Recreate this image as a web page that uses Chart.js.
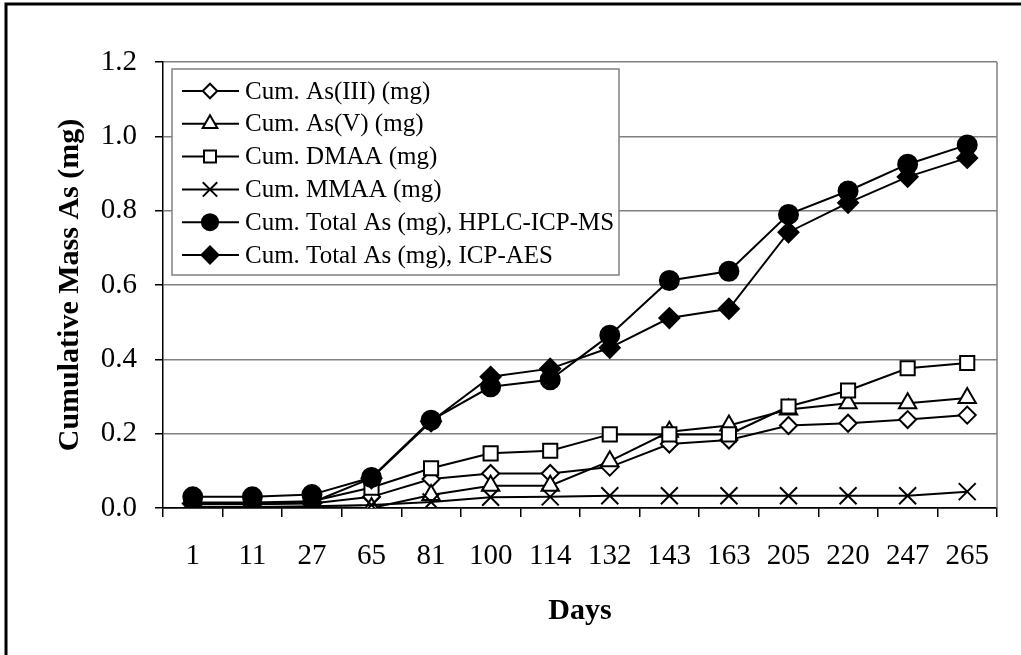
<!DOCTYPE html>
<html>
<head>
<meta charset="utf-8">
<script src="https://cdn.jsdelivr.net/npm/chart.js@4/dist/chart.umd.min.js"></script>
<style>
  html, body { margin: 0; padding: 0; background: #fff; }
  #wrap { width: 1021px; height: 655px; }
</style>
</head>
<body>
<div id="wrap"><canvas id="c" width="1021" height="655"></canvas></div>
<script>
// sampling days (category axis)
const days = ['1', '11', '27', '65', '81', '100', '114', '132', '143', '163', '205', '220', '247', '265'];

// cumulative arsenic mass per species, mg
const as3  = [0.010, 0.010, 0.012, 0.030, 0.078, 0.093, 0.093, 0.110, 0.172, 0.183, 0.222, 0.228, 0.238, 0.250];
const as5  = [0.000, 0.000, 0.003, 0.000, 0.035, 0.060, 0.060, 0.126, 0.205, 0.222, 0.265, 0.282, 0.282, 0.296];
const dmaa = [0.015, 0.015, 0.018, 0.055, 0.107, 0.147, 0.154, 0.198, 0.198, 0.198, 0.273, 0.316, 0.376, 0.390];
const mmaa = [0.003, 0.003, 0.005, 0.008, 0.016, 0.029, 0.030, 0.033, 0.033, 0.033, 0.033, 0.033, 0.033, 0.044];
const totalMs  = [0.030, 0.030, 0.036, 0.082, 0.236, 0.326, 0.345, 0.465, 0.612, 0.637, 0.790, 0.853, 0.925, 0.977];
const totalAes = [0.012, 0.012, 0.015, 0.080, 0.233, 0.353, 0.375, 0.431, 0.511, 0.536, 0.742, 0.821, 0.891, 0.942];

const yTicks = [0, 0.2, 0.4, 0.6, 0.8, 1.0, 1.2];

const serif = '"Liberation Serif", "Times New Roman", serif';

function series(label, data, style, radius, fill, i) {
  return {
    label, data,
    borderColor: '#000', borderWidth: 2,
    pointStyle: style, pointRadius: radius, pointHoverRadius: radius,
    pointBackgroundColor: fill, pointBorderColor: '#000', pointBorderWidth: 2,
    tension: 0, fill: false,
    order: 5 - i   // later series sit on top
  };
}

// white page + outer frame
const frame = {
  id: 'frame',
  beforeDraw(chart) {
    const { ctx, width, height } = chart;
    ctx.save();
    ctx.fillStyle = '#fff';
    ctx.fillRect(0, 0, width, height);
    ctx.strokeStyle = '#000';
    ctx.lineWidth = 3;
    ctx.strokeRect(6, 4, width + 20, height + 20);
    ctx.restore();
  },
  beforeDatasetsDraw(chart) {
    const { ctx, chartArea } = chart;
    ctx.save();
    ctx.strokeStyle = '#808080';
    ctx.lineWidth = 1.5;
    ctx.beginPath();
    ctx.moveTo(chartArea.right, chartArea.top);
    ctx.lineTo(chartArea.right, chartArea.bottom);
    ctx.stroke();
    ctx.restore();
  }
};

// boxed legend in the upper left of the plot
const boxLegend = {
  id: 'boxLegend',
  afterDraw(chart) {
    const { ctx, chartArea } = chart;
    const x = chartArea.left + 9, y = chartArea.top + 7, w = 447, h = 206;
    ctx.save();
    ctx.fillStyle = '#fff';
    ctx.fillRect(x, y, w, h);
    ctx.strokeStyle = '#808080';
    ctx.lineWidth = 1.5;
    ctx.strokeRect(x, y, w, h);
    ctx.font = '25px ' + serif;
    ctx.textBaseline = 'middle';
    chart.data.datasets.forEach((ds, i) => {
      const cy = y + 22 + i * 32.8;
      ctx.strokeStyle = '#000';
      ctx.lineWidth = 2;
      ctx.beginPath();
      ctx.moveTo(x + 10, cy);
      ctx.lineTo(x + 67, cy);
      ctx.stroke();
      ctx.fillStyle = ds.pointBackgroundColor;
      Chart.helpers.drawPoint(ctx, {
        pointStyle: ds.pointStyle, radius: ds.pointRadius * 0.85,
        rotation: 0, borderWidth: ds.pointBorderWidth
      }, x + 38, cy);
      ctx.fillStyle = '#000';
      ctx.fillText(ds.label, x + 73, cy + 1);
    });
    ctx.restore();
  }
};

new Chart(document.getElementById('c'), {
  type: 'line',
  data: {
    labels: days,
    datasets: [
      series('Cum. As(III) (mg)', as3, 'rectRot', 8.5, '#fff', 0),
      series('Cum. As(V) (mg)', as5, 'triangle', 10, '#fff', 1),
      series('Cum. DMAA (mg)', dmaa, 'rect', 10, '#fff', 2),
      series('Cum. MMAA (mg)', mmaa, 'crossRot', 12, '#fff', 3),
      series('Cum. Total As (mg), HPLC-ICP-MS', totalMs, 'circle', 9.5, '#000', 4),
      series('Cum. Total As (mg), ICP-AES', totalAes, 'rectRot', 10, '#000', 5)
    ]
  },
  options: {
    responsive: false,
    animation: false,
    devicePixelRatio: 1,
    layout: { padding: { top: 62, right: 24, left: 0, bottom: 0 } },
    plugins: { legend: { display: false }, tooltip: { enabled: false } },
    scales: {
      x: {
        offset: true,
        afterFit: s => { s.height = 147; },
        grid: { offset: true, drawOnChartArea: false, tickLength: 9, color: '#000', lineWidth: 1.5 },
        border: { color: '#000', width: 1.5 },
        ticks: { color: '#000', padding: 22, maxRotation: 0, autoSkip: false, font: { family: serif, size: 29 } },
        title: {
          display: true, text: 'Days', color: '#000',
          font: { family: serif, size: 30, weight: 'bold' },
          padding: { top: 0, bottom: 26 }
        }
      },
      y: {
        min: 0, max: 1.2,
        afterFit: s => { s.width = 163; },
        afterBuildTicks: s => { s.ticks = yTicks.map(v => ({ value: v })); },
        grid: {
          color: c => c.tick && c.tick.value === 0 ? '#000' : '#808080',
          tickColor: '#000', tickLength: 8, lineWidth: 1.5
        },
        border: { color: '#000', width: 1.5 },
        ticks: {
          color: '#000', padding: 18,
          font: { family: serif, size: 29 },
          callback: v => Number(v).toFixed(1)
        },
        title: {
          display: true, text: 'Cumulative Mass As (mg)', color: '#000',
          font: { family: serif, size: 30, weight: 'bold' },
          padding: { top: 52, bottom: 0 }
        }
      }
    }
  },
  plugins: [frame, boxLegend]
});
</script>
</body>
</html>
